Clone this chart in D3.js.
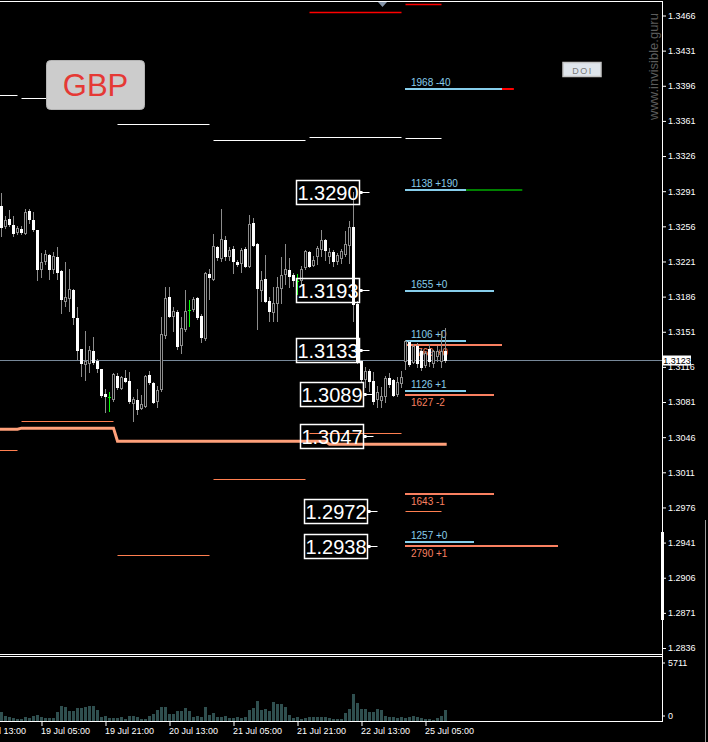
<!DOCTYPE html>
<html><head><meta charset="utf-8">
<script src="https://cdn.jsdelivr.net/npm/d3@7"></script>
<style>
html,body{margin:0;padding:0;background:#000;overflow:hidden}
svg{display:block}
text{font-family:"Liberation Sans",Arial,sans-serif}
</style>
</head><body>
<svg id="chart" width="708" height="742"></svg>
<script>
// ---------------- DATA ----------------
const opens = [1.3276,1.3256,1.3263,1.3257,1.3250,1.3253,1.3249,1.3271,1.3262,1.3252,
1.3214,1.3221,1.3227,1.3214,1.3225,1.3212,1.3182,1.3185,1.3193,1.3165,
1.3134,1.3119,1.3120,1.3132,1.3122,1.3114,1.3089,1.3086,1.3084,1.3107,
1.3095,1.3105,1.3102,1.3080,1.3083,1.3075,1.3077,1.3108,1.3100,1.3082,
1.3094,1.3148,1.3186,1.3167,1.3171,1.3138,1.3154,1.3173,1.3174,1.3185,
1.3167,1.3145,1.3209,1.3204,1.3235,1.3224,1.3242,1.3226,1.3233,1.3220,
1.3219,1.3233,1.3216,1.3259,1.3238,1.3193,1.3204,1.3182,1.3171,1.3180,
1.3195,1.3209,1.3213,1.3208,1.3202,1.3203,1.3215,1.3230,1.3217,1.3226,
1.3233,1.3242,1.3226,1.3230,1.3221,1.3224,1.3228,1.3237,1.3255,1.3179,
1.3122,1.3104,1.3112,1.3102,1.3084,1.3083,1.3087,1.3105,1.3103,1.3089,
1.3100,1.3122,1.3141,1.3121,1.3137,1.3132,1.3118,1.3134,1.3120,1.3127,
1.3122,1.3132];
const highs = [1.3289,1.3266,1.3272,1.3266,1.3256,1.3256,1.3273,1.3273,1.3270,1.3252,
1.3229,1.3232,1.3228,1.3230,1.3235,1.3213,1.3220,1.3214,1.3194,1.3176,
1.3134,1.3152,1.3137,1.3146,1.3124,1.3114,1.3094,1.3091,1.3110,1.3110,
1.3107,1.3113,1.3111,1.3086,1.3094,1.3088,1.3108,1.3112,1.3101,1.3097,
1.3166,1.3196,1.3196,1.3176,1.3173,1.3166,1.3193,1.3183,1.3186,1.3186,
1.3169,1.3211,1.3214,1.3248,1.3236,1.3273,1.3246,1.3235,1.3236,1.3222,
1.3234,1.3235,1.3267,1.3264,1.3239,1.3212,1.3227,1.3186,1.3196,1.3206,
1.3225,1.3238,1.3224,1.3210,1.3209,1.3216,1.3232,1.3231,1.3226,1.3236,
1.3252,1.3243,1.3234,1.3232,1.3229,1.3233,1.3251,1.3261,1.3290,1.3182,
1.3123,1.3116,1.3114,1.3111,1.3097,1.3096,1.3107,1.3110,1.3104,1.3106,
1.3112,1.3143,1.3142,1.3139,1.3140,1.3134,1.3132,1.3139,1.3133,1.3137,
1.3152,1.3155];
const lows = [1.3246,1.3254,1.3256,1.3246,1.3248,1.3248,1.3248,1.3259,1.3251,1.3203,
1.3206,1.3218,1.3204,1.3210,1.3204,1.3170,1.3177,1.3172,1.3159,1.3124,
1.3107,1.3103,1.3111,1.3119,1.3111,1.3086,1.3071,1.3072,1.3082,1.3094,
1.3094,1.3101,1.3080,1.3062,1.3069,1.3074,1.3076,1.3099,1.3080,1.3076,
1.3092,1.3145,1.3166,1.3152,1.3134,1.3130,1.3152,1.3157,1.3172,1.3164,
1.3141,1.3143,1.3184,1.3203,1.3222,1.3221,1.3222,1.3222,1.3210,1.3216,
1.3211,1.3215,1.3215,1.3236,1.3154,1.3182,1.3181,1.3162,1.3162,1.3162,
1.3180,1.3199,1.3196,1.3197,1.3189,1.3198,1.3214,1.3215,1.3216,1.3218,
1.3226,1.3222,1.3219,1.3216,1.3218,1.3219,1.3226,1.3219,1.3162,1.3120,
1.3101,1.3096,1.3092,1.3079,1.3076,1.3076,1.3081,1.3096,1.3087,1.3087,
1.3096,1.3114,1.3117,1.3120,1.3116,1.3113,1.3116,1.3117,1.3116,1.3122,
1.3116,1.3121];
const closes = [1.3255,1.3262,1.3258,1.3249,1.3254,1.3250,1.3270,1.3263,1.3253,1.3214,
1.3220,1.3228,1.3214,1.3226,1.3211,1.3184,1.3186,1.3194,1.3166,1.3133,
1.3120,1.3122,1.3133,1.3121,1.3115,1.3088,1.3087,1.3086,1.3109,1.3096,
1.3106,1.3102,1.3082,1.3084,1.3074,1.3079,1.3107,1.3101,1.3081,1.3093,
1.3149,1.3185,1.3167,1.3172,1.3137,1.3155,1.3172,1.3173,1.3184,1.3166,
1.3146,1.3210,1.3206,1.3236,1.3225,1.3243,1.3226,1.3232,1.3221,1.3218,
1.3232,1.3216,1.3258,1.3237,1.3195,1.3203,1.3182,1.3172,1.3180,1.3196,
1.3208,1.3214,1.3207,1.3203,1.3202,1.3214,1.3231,1.3216,1.3222,1.3234,
1.3242,1.3232,1.3230,1.3221,1.3227,1.3231,1.3238,1.3255,1.3179,1.3121,
1.3104,1.3112,1.3102,1.3082,1.3091,1.3087,1.3105,1.3099,1.3088,1.3101,
1.3106,1.3142,1.3119,1.3137,1.3120,1.3116,1.3130,1.3122,1.3132,1.3132,
1.3132,1.3123];
const volumes = [800,450,360,270,180,180,360,270,450,530,
360,270,270,270,800,1340,1250,890,890,1160,
1160,1250,1340,1340,980,360,450,270,270,270,
360,180,450,450,360,180,180,450,620,980,
1250,1250,620,620,890,890,1160,890,360,450,
360,1250,530,710,360,360,450,270,270,360,
270,360,980,1160,1780,980,1070,890,1690,1520,
1520,1250,530,270,360,180,270,360,360,360,
360,360,270,180,180,180,710,1070,2410,1600,
1070,1070,800,800,1070,980,450,360,360,270,
360,270,360,450,360,270,180,180,90,270,
450,980];
const volumeMax = 5711;

const priceTicks = [1.3466,1.3431,1.3396,1.3361,1.3326,1.3291,1.3256,1.3221,1.3186,1.3151,
1.3116,1.3081,1.3046,1.3011,1.2976,1.2941,1.2906,1.2871,1.2836];
const timeTickBars = [-6,10,26,42,58,74,90,106];
const timeTickLabels = ["18 Jul 13:00","19 Jul 05:00","19 Jul 21:00","20 Jul 13:00","21 Jul 05:00","21 Jul 21:00","22 Jul 13:00","25 Jul 05:00"];
const lastPrice = 1.3123;

// key price labels (boxed)
const keyLevels = [1.3290,1.3193,1.3133,1.3089,1.3047,1.2972,1.2938];
const keyLevelBars = [92,92,92,93,93,94,94];

// daily levels
const dayStart = [-19,5,29,53,77,101];
const dayEnd   = [4,28,52,76,100,110];
const dayHigh  = [1.3387,1.3384,1.3358,1.3342,1.3345,1.3344];
const dayLow   = [1.3033,1.3062,1.2929,1.3004,1.3050,1.2972];
const dayTop   = [null,null,null,null,1.3469,1.3477];

// stepped line
const stepBars   = [-1,4,5,28,29,81,82,111.3];
const stepPrices = [1.3054,1.3054,1.3055,1.3055,1.3042,1.3042,1.3039,1.3039];

// option levels
const optPrices = [1.3393,1.3292,1.3192,1.3142,1.3138,1.3092,1.3088,1.2989,1.2942,1.2938];
const optValues = [1968,1138,1655,1106,769,1126,1627,1643,1257,2790];
const optChange = [-40,190,0,0,0,1,-2,-1,0,1];
const optType   = ["call","call","call","call","put","call","put","put","call","put"];
const optSpanBars = [24.25,15.25,22.25,15.25,24.25,15.25,22.25,22.25,17.25,38.25];
const optStartBar = 101;

// ---------------- SCALES ----------------
const svg = d3.select("#chart");
const W = 708, H = 742;
const plotRight = 662;
const x = d3.scaleLinear().domain([0,111]).range([1.5,445.5]);
const y = d3.scaleLinear().domain([1.2836,1.3466]).range([648,15.5]);
const vy = d3.scaleLinear().domain([0,volumeMax]).range([721,657]);
const chgBars = d3.scaleLinear().domain([0,13.5]).range([0,1]);

svg.append("rect").attr("width",W).attr("height",H).attr("fill","#000");

const defs = svg.append("defs");
defs.append("clipPath").attr("id","mainClip").append("rect")
  .attr("x",0).attr("y",2).attr("width",plotRight).attr("height",652);
defs.append("clipPath").attr("id","volClip").append("rect")
  .attr("x",0).attr("y",657).attr("width",plotRight).attr("height",64);

const main = svg.append("g").attr("clip-path","url(#mainClip)");

// daily lines
const days = d3.range(dayStart.length);
main.selectAll("line.dh").data(days).join("line")
  .attr("x1",d=>x(dayStart[d])).attr("x2",d=>x(dayEnd[d]))
  .attr("y1",d=>Math.round(y(dayHigh[d]))+0.5).attr("y2",d=>Math.round(y(dayHigh[d]))+0.5)
  .attr("stroke","#ffffff").attr("stroke-width",1);
main.selectAll("line.dl").data(days).join("line")
  .attr("x1",d=>x(dayStart[d])).attr("x2",d=>x(dayEnd[d]))
  .attr("y1",d=>Math.round(y(dayLow[d]))+0.5).attr("y2",d=>Math.round(y(dayLow[d]))+0.5)
  .attr("stroke","#ff7f50").attr("stroke-width",1);
main.selectAll("line.dt").data(days.filter(d=>dayTop[d]!==null)).join("line")
  .attr("x1",d=>x(dayStart[d])).attr("x2",d=>x(dayEnd[d]))
  .attr("y1",d=>Math.round(y(dayTop[d]))+0.5).attr("y2",d=>Math.round(y(dayTop[d]))+0.5)
  .attr("stroke","#ff0000").attr("stroke-width",1.3);

// stepped thick line
const stepLine = d3.line().x(d=>x(d[0])).y(d=>y(d[1]));
main.append("path").datum(stepBars.map((b,i)=>[b,stepPrices[i]]))
  .attr("d",stepLine).attr("fill","none").attr("stroke","#ffa07a").attr("stroke-width",3);

// bid line
main.append("line").attr("x1",0).attr("x2",plotRight)
  .attr("y1",Math.round(y(lastPrice))+0.5).attr("y2",Math.round(y(lastPrice))+0.5)
  .attr("stroke","#778899").attr("stroke-width",1);

// option levels
const optColor = t => t==="call" ? "#87ceeb" : "#fa8060";
const opts = d3.range(optPrices.length);
const x0 = x(optStartBar)-0.5;
const barW = x(1)-x(0);
opts.forEach(i=>{
  const yy = Math.round(y(optPrices[i]));
  const len = optSpanBars[i]*barW;
  main.append("line").attr("x1",x0).attr("x2",x0+len).attr("y1",yy).attr("y2",yy)
    .attr("stroke",optColor(optType[i])).attr("stroke-width",2);
  if (Math.abs(optChange[i])>=10){
    const ext = chgBars(Math.abs(optChange[i]))*barW;
    main.append("line").attr("x1",x0+len).attr("x2",x0+len+ext).attr("y1",yy).attr("y2",yy)
      .attr("stroke",optChange[i]>0?"#008000":"#ff0000").attr("stroke-width",2);
  }
  const sign = optChange[i]>=0?"+":"";
  main.append("text")
    .attr("x",x0+6 + (optValues[i]<1000?6:0))
    .attr("y",optType[i]==="call"? yy-3 : yy+11)
    .attr("fill",optColor(optType[i])).attr("font-size","10px")
    .text(optValues[i]+" "+sign+optChange[i]);
});

// candles
const idx = d3.range(opens.length);
const wickCol = "#8c8c8c";
const cg = main.append("g");
idx.forEach(i=>{
  const cx = x(i);
  const o=opens[i], c=closes[i], h=highs[i], l=lows[i];
  const doji = o===c;
  cg.append("line").attr("x1",cx).attr("x2",cx)
    .attr("y1",Math.round(y(h))).attr("y2",Math.round(y(l))+1)
    .attr("stroke",doji?"#00ff00":wickCol).attr("stroke-width",1);
  if (doji){
    const yy = Math.round(y(o))+0.5;
    cg.append("line").attr("x1",cx-1.5).attr("x2",cx+1.5).attr("y1",yy).attr("y2",yy)
      .attr("stroke","#00ff00").attr("stroke-width",1);
  } else if (c>o){
    const yt = Math.round(y(c)), yb = Math.round(y(o));
    cg.append("rect").attr("x",cx-1).attr("y",yt+0.5).attr("width",2).attr("height",Math.max(1,yb-yt))
      .attr("fill","#000").attr("stroke",wickCol).attr("stroke-width",1);
  } else {
    const yt = Math.round(y(o)), yb = Math.round(y(c));
    cg.append("rect").attr("x",cx-1.5).attr("y",yt).attr("width",3).attr("height",Math.max(1,yb-yt+1))
      .attr("fill","#ffffff");
  }
});

// key level boxes
keyLevels.forEach((p,i)=>{
  const ax = x(keyLevelBars[i]);
  const yy = Math.round(y(p))+0.5;
  const right = ax-10, left = right-63;
  main.append("rect").attr("x",left).attr("y",yy-12).attr("width",63).attr("height",24)
    .attr("fill","none").attr("stroke","#ffffff").attr("stroke-width",1.5);
  main.append("text").attr("x",left+31.5).attr("y",yy+7.5).attr("text-anchor","middle")
    .attr("fill","#ffffff").attr("font-size","20px").text(d3.format(".4f")(p));
  main.append("rect").attr("x",right).attr("y",yy-1.5).attr("width",3).attr("height",3).attr("fill","#fff");
  main.append("line").attr("x1",right).attr("x2",ax).attr("y1",yy).attr("y2",yy)
    .attr("stroke","#ffffff").attr("stroke-width",1);
});

// top marker
svg.append("path").attr("d","M378,2 L387,2 L382.5,7 Z").attr("fill","#8494a8");

// frame
svg.append("line").attr("x1",0).attr("x2",plotRight+0.5).attr("y1",1.5).attr("y2",1.5).attr("stroke","#fff");
svg.append("line").attr("x1",plotRight+0.5).attr("x2",plotRight+0.5).attr("y1",1).attr("y2",722).attr("stroke","#fff");
svg.append("line").attr("x1",0).attr("x2",plotRight+0.5).attr("y1",654.5).attr("y2",654.5).attr("stroke","#fff");
svg.append("line").attr("x1",0).attr("x2",plotRight+0.5).attr("y1",656.5).attr("y2",656.5).attr("stroke","#fff");
svg.append("line").attr("x1",0).attr("x2",plotRight+0.5).attr("y1",721.5).attr("y2",721.5).attr("stroke","#fff");
svg.append("rect").attr("x",661).attr("y",532).attr("width",3).attr("height",88).attr("fill","#fff");
svg.append("line").attr("x1",705.5).attr("x2",705.5).attr("y1",520).attr("y2",742).attr("stroke","#9a9a9a");

// price axis
const yAxis = d3.axisRight(y).tickValues(priceTicks).tickSize(4).tickPadding(2).tickFormat(d3.format(".4f"));
const ya = svg.append("g").attr("transform",`translate(${plotRight},0)`).call(yAxis);
ya.select(".domain").remove();
ya.selectAll("line").attr("stroke","#fff");
ya.selectAll("text").attr("fill","#fff").attr("font-size","9px").attr("font-family","Liberation Sans, Arial, sans-serif");

// current price label
const ly = Math.round(y(lastPrice));
svg.append("rect").attr("x",663).attr("y",ly-4.5).attr("width",28).attr("height",10).attr("fill","#fff");
svg.append("text").attr("x",677).attr("y",ly+4).attr("text-anchor","middle").attr("fill","#000")
  .attr("font-size","9px").text(d3.format(".4f")(lastPrice));

// volume
const vg = svg.append("g").attr("clip-path","url(#volClip)");
vg.selectAll("rect").data(idx).join("rect")
  .attr("x",i=>x(i)-1.5).attr("width",3)
  .attr("y",i=>Math.round(vy(volumes[i]))).attr("height",i=>721-Math.round(vy(volumes[i])))
  .attr("fill","#2f4f4f");
const vAxis = d3.axisRight(vy).tickValues([0,volumeMax]).tickSize(3).tickPadding(3).tickFormat(d3.format("d"));
const va = svg.append("g").attr("transform",`translate(${plotRight},0)`).call(vAxis);
va.select(".domain").remove();
va.selectAll("line").attr("stroke","#fff");
va.selectAll("text").attr("fill","#fff").attr("font-size","9px").attr("font-family","Liberation Sans, Arial, sans-serif");
va.selectAll(".tick").attr("transform",d=>`translate(0,${d===0?716:663})`);

// time axis
const xAxis = d3.axisBottom(x).tickValues(timeTickBars).tickSize(4)
  .tickFormat((d,i)=>timeTickLabels[i]);
const xa = svg.append("g").attr("transform","translate(0,722)").call(xAxis);
xa.select(".domain").remove();
xa.selectAll("line").attr("stroke","#fff");
xa.selectAll("text").attr("fill","#fff").attr("font-size","9px").attr("text-anchor","start")
  .attr("dx","-1").attr("y",6).attr("dy","0.71em").attr("font-family","Liberation Sans, Arial, sans-serif");

// GBP badge
svg.append("rect").attr("x",46.5).attr("y",60.5).attr("width",98).attr("height",49).attr("rx",4)
  .attr("fill","#cccccc").attr("stroke","#b4b4b4");
svg.append("text").attr("x",95.5).attr("y",96).attr("text-anchor","middle").attr("font-size","31px")
  .attr("fill","#e53935").text("GBP");

// DOI button
svg.append("rect").attr("x",563).attr("y",62.5).attr("width",38).attr("height",14)
  .attr("fill","#dfe5ec").attr("stroke","#c4c4c4").attr("stroke-width",1.5);
svg.append("text").attr("x",582.5).attr("y",73.5).attr("text-anchor","middle").attr("font-size","9px")
  .attr("letter-spacing","1.5px").attr("fill","#7a7a7a").text("DOI");

// watermark
svg.append("text").attr("transform","translate(658,120) rotate(-90)")
  .attr("font-size","13px").attr("fill","#5c5c5c").text("www.invisible.guru");
</script>
</body></html>
